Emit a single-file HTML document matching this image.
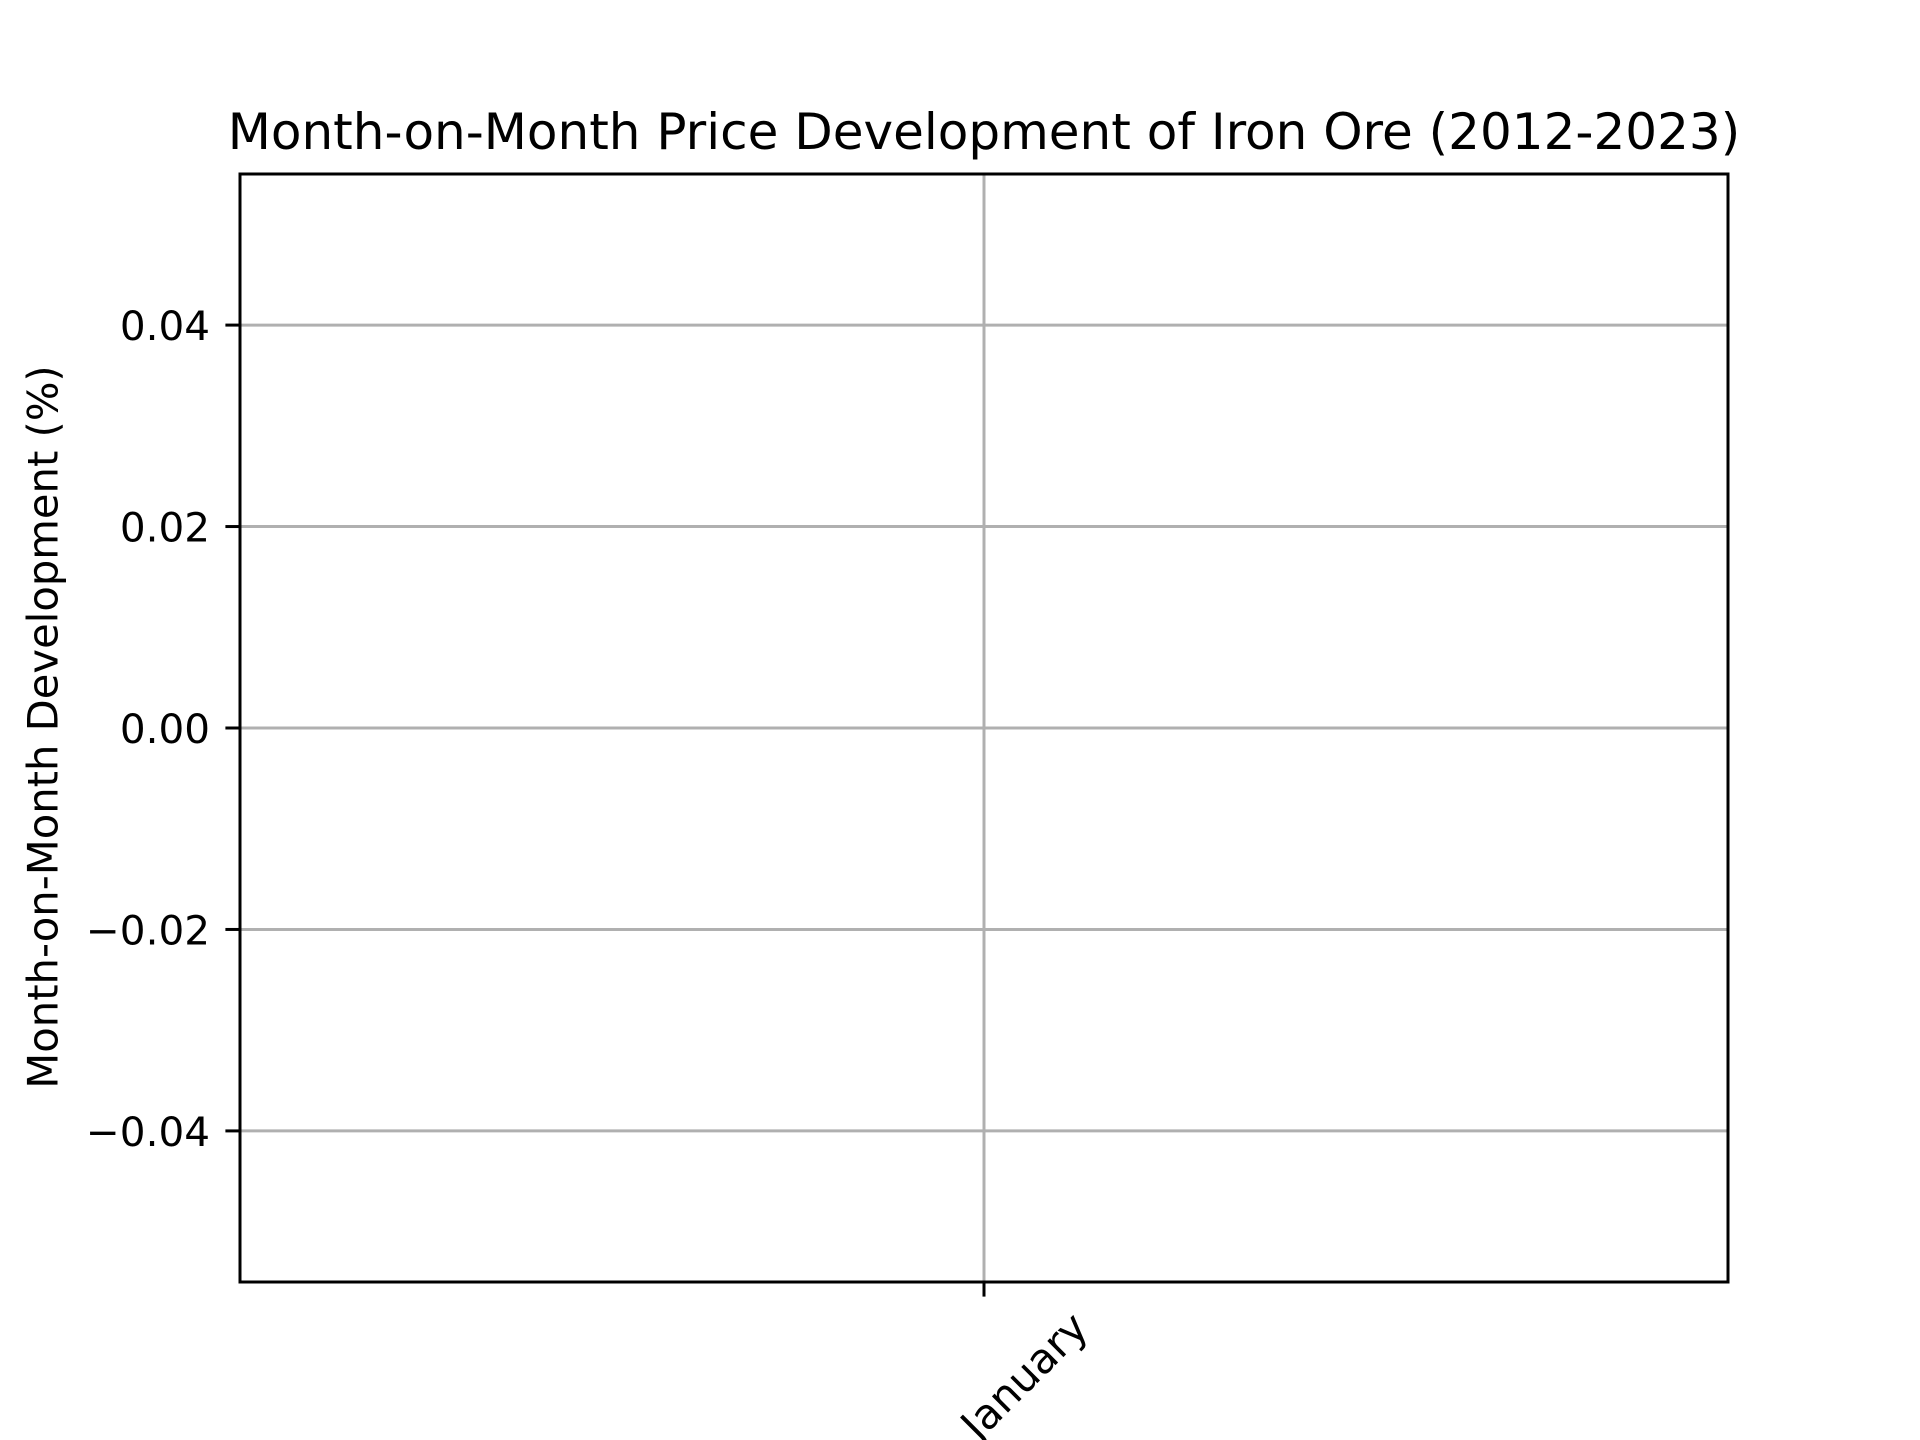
<!DOCTYPE html>
<html><head><meta charset="utf-8"><style>html,body{margin:0;background:#fff;width:1920px;height:1440px;overflow:hidden}svg{display:block;overflow:hidden}text{font-family:"DejaVu Sans","Liberation Sans",sans-serif;fill:#000}</style></head>
<body>
<svg id="chart" width="1920" height="1440" viewBox="0 0 1920 1440">
<rect width="1920" height="1440" fill="#fff"/>
<text x="984" y="149" font-size="50" text-anchor="middle">Month-on-Month Price Development of Iron Ore (2012-2023)</text>
<g id="grid"></g>
<g id="series"></g>
<rect x="240" y="174" width="1488" height="1108" fill="none" stroke="#000" stroke-width="3"/>
<g id="yticks"></g>
<g id="xticks"></g>
<text transform="translate(43,727) rotate(-90)" font-size="41.7" text-anchor="middle" dominant-baseline="central">Month-on-Month Development (%)</text>
</svg>
<script>
const categories = ["2012 - January"];
const values = [];
const yTicks = [0.04, 0.02, 0.00, -0.02, -0.04];
const yTickLabels = ["0.04", "0.02", "0.00", "\u22120.02", "\u22120.04"];
const L=240,R=1728,T=174,B=1282,ymin=-0.055,ymax=0.055;
const ns="http://www.w3.org/2000/svg";
function y(v){return B-(v-ymin)/(ymax-ymin)*(B-T);}
function x(i){return categories.length===1?(L+R)/2:L+ (i+0.5)*(R-L)/categories.length;}
function mk(tag,attrs,parent){const e=document.createElementNS(ns,tag);for(const k in attrs)e.setAttribute(k,attrs[k]);parent.appendChild(e);return e;}
const grid=document.getElementById('grid'),yt=document.getElementById('yticks'),xt=document.getElementById('xticks'),ser=document.getElementById('series');
yTicks.forEach((v,i)=>{
  const g=mk('line',{x1:L,x2:R,y1:y(v),y2:y(v),stroke:'#b0b0b0','stroke-width':3},grid);
  
  
  const t=mk('line',{x1:L-14.6,x2:L,y1:y(v),y2:y(v),stroke:'#000','stroke-width':3},yt);
  
  
  const tx=mk('text',{x:L-30,y:y(v)+15,'font-size':40.5,'text-anchor':'end'},yt);
  tx.textContent=yTickLabels[i];
  
  
});
categories.forEach((c,i)=>{
  const g=mk('line',{x1:x(i),x2:x(i),y1:T,y2:B,stroke:'#b0b0b0','stroke-width':3},grid);
  
  
  const t=mk('line',{x1:x(i),x2:x(i),y1:B,y2:B+14.6,stroke:'#000','stroke-width':3},xt);
  
  
  const tx=mk('text',{'font-size':41.7,'text-anchor':'middle','dominant-baseline':'central',transform:`translate(${x(i)-12},${B+146}) rotate(-45)`},xt);
  tx.textContent=c;
  
  
});
if(values.length){
  const p=mk('polyline',{points:values.map((v,i)=>x(i)+','+y(v)).join(' '),fill:'none',stroke:'#1f77b4','stroke-width':3},ser);
  
  
}
</script>
</body></html>
